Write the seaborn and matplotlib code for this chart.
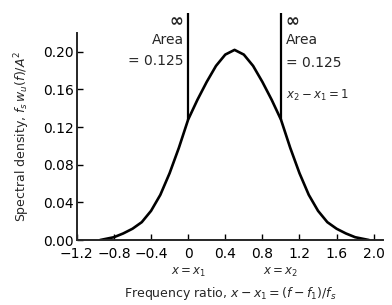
import numpy as np
import pandas as pd
import seaborn as sns
import matplotlib
matplotlib.use("Agg")
import matplotlib.pyplot as plt

# curve
freq_ratio = [-0.95, -0.9, -0.8, -0.7, -0.6, -0.5, -0.4, -0.3, -0.2, -0.1, 0.0,
              0.1, 0.2, 0.3, 0.4, 0.5, 0.6, 0.7, 0.8, 0.9, 1.0,
              1.1, 1.2, 1.3, 1.4, 1.5, 1.6, 1.7, 1.8, 1.9, 1.95]
spectral = [0.0, 0.001, 0.003, 0.007, 0.012, 0.019, 0.031, 0.048, 0.071, 0.098, 0.128,
            0.149, 0.168, 0.185, 0.197, 0.202, 0.197, 0.185, 0.168, 0.149, 0.128,
            0.098, 0.071, 0.048, 0.031, 0.019, 0.012, 0.007, 0.003, 0.001, 0.0]

# delta spikes at x1 and x2
spike_x = [0.0, 1.0]
spike_base = [0.128, 0.128]
spike_area = ["= 0.125", "= 0.125"]

x_ticks = [-1.2, -0.8, -0.4, 0.0, 0.4, 0.8, 1.2, 1.6, 2.0]
x_ticklabels = ["\u22121.2", "\u22120.8", "\u22120.4", "0", "0.4", "0.8", "1.2", "1.6", "2.0"]
y_ticks = [0.00, 0.04, 0.08, 0.12, 0.16, 0.20]
y_ticklabels = ["0.00", "0.04", "0.08", "0.12", "0.16", "0.20"]

sns.set_style("ticks")
plt.rcParams["font.family"] = ["DejaVu Sans"]

df = pd.DataFrame({"x": freq_ratio, "s": spectral})

fig = plt.figure(figsize=(3.92, 3.05), dpi=100)
ax = fig.add_axes([0.196, 0.213, 0.781, 0.679])

sns.lineplot(data=df, x="x", y="s", ax=ax, color="black", linewidth=1.9)

top = 0.2415
ax.vlines(spike_x, spike_base, [top, top], color="black", linewidth=1.6, clip_on=False)

# labels next to the spikes
ax.text(spike_x[0] - 0.05, top + 0.001, "\u221e", ha="right", va="top", fontsize=12, fontweight="bold")
ax.text(spike_x[0] - 0.05, 0.220, "Area", ha="right", va="top", fontsize=10)
ax.text(spike_x[0] - 0.05, 0.198, spike_area[0], ha="right", va="top", fontsize=10)
ax.text(spike_x[1] + 0.05, top + 0.001, "\u221e", ha="left", va="top", fontsize=12, fontweight="bold")
ax.text(spike_x[1] + 0.05, 0.220, "Area", ha="left", va="top", fontsize=10)
ax.text(spike_x[1] + 0.05, 0.196, spike_area[1], ha="left", va="top", fontsize=10)
ax.text(spike_x[1] + 0.05, 0.162, r"$x_2 - x_1 = 1$", ha="left", va="top", fontsize=8.5)

ax.set_xlim(-1.2, 2.1)
ax.set_ylim(0, 0.22)
ax.set_xticks(x_ticks)
ax.set_xticklabels(x_ticklabels)
ax.set_yticks(y_ticks)
ax.set_yticklabels(y_ticklabels)
ax.tick_params(direction="in", length=4, width=1, labelsize=10, colors="black")
ax.tick_params(axis="x", pad=5)
ax.tick_params(axis="y", pad=2)
for s in ["left", "bottom"]:
    ax.spines[s].set_linewidth(1.4)
sns.despine(ax=ax)

ax.text(0.0, -0.034, r"$x = x_1$", ha="center", va="center", fontsize=8.5)
ax.text(1.0, -0.034, r"$x = x_2$", ha="center", va="center", fontsize=8.5)

ax.set_xlabel(r"Frequency ratio, $x - x_1 = (f - f_1)/f_s$", fontsize=9, labelpad=17)
ax.set_ylabel(r"Spectral density, $f_s\,w_u(f)/A^2$", fontsize=9, labelpad=8)

fig.savefig("out.png", dpi=100)
